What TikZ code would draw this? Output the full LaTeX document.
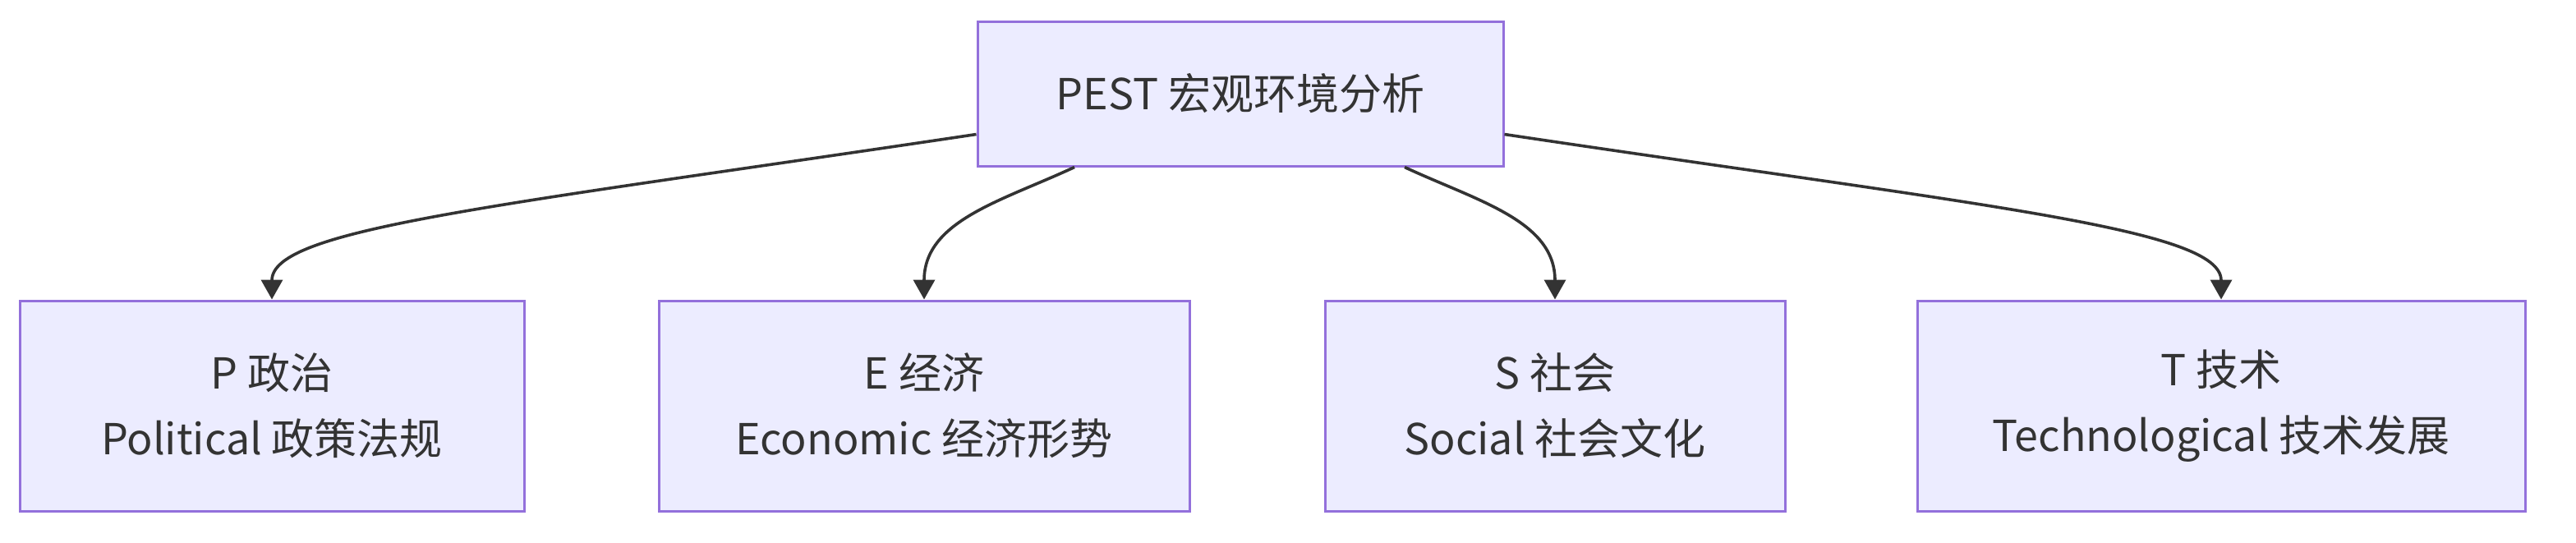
\documentclass[tikz,border=0pt]{standalone}
\usepackage{fontspec}
\setmainfont{Noto Sans CJK SC}
\usetikzlibrary{arrows.meta}
\definecolor{boxfill}{HTML}{ECECFF}
\definecolor{boxline}{HTML}{9370DB}
\definecolor{inkgray}{HTML}{333333}

\begin{document}
\begin{tikzpicture}[x=1pt,y=1pt,
  factor node/.style={rectangle,draw=boxline,fill=boxfill,line width=1.5pt,
    text=inkgray,align=center,font=\fontsize{26}{40}\selectfont,
    minimum height=128pt,inner sep=0pt},
  link/.style={draw=inkgray,line width=1.8pt,-{Triangle[length=12pt,width=13pt]}}]

\useasboundingbox (0,0) rectangle (1568,-330);

\node[factor node,minimum width=320pt,minimum height=88pt] (pest) at (755,-57) {PEST 宏观环境分析};
\node[factor node,minimum width=307pt] (p) at (165.5,-247) {P 政治\\Political 政策法规};
\node[factor node,minimum width=323pt] (e) at (562.5,-247) {E 经济\\Economic 经济形势};
\node[factor node,minimum width=280pt] (s) at (946.5,-247) {S 社会\\Social 社会文化};
\node[factor node,minimum width=370pt] (t) at (1352,-247) {T 技术\\Technological 技术发展};

\draw[link] ([yshift=20pt]pest.south west) .. controls +(-294.5,-44) and +(0,43) .. (p.north);
\draw[link] ([xshift=-101pt]pest.south) .. controls +(-44,-20.5) and +(0,48) .. (e.north);
\draw[link] ([xshift=100pt]pest.south) .. controls +(44,-20.5) and +(0,48) .. (s.north);
\draw[link] ([yshift=20pt]pest.south east) .. controls +(294.5,-44) and +(0,43) .. (t.north);

\end{tikzpicture}
\end{document}
